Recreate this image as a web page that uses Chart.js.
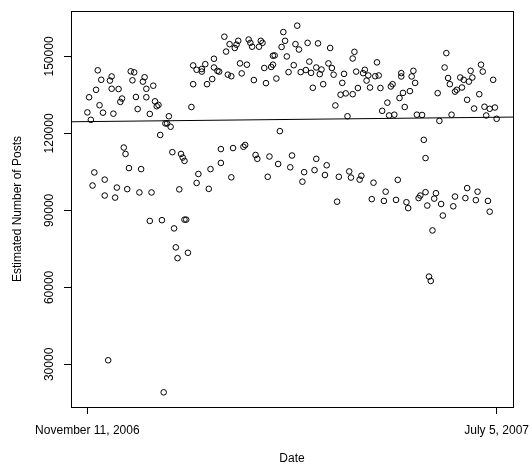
<!DOCTYPE html>
<html>
<head>
<meta charset="utf-8">
<script src="https://cdn.jsdelivr.net/npm/chart.js@4/dist/chart.umd.min.js"></script>
<style>
  html, body { margin: 0; padding: 0; background: #fff; }
  canvas { display: block; }
</style>
</head>
<body>
<canvas id="posts" width="532" height="466"></canvas>
<script>
// Days since November 11, 2006 and the estimated number of posts on that day
const dayOffsets = [
  0, 1, 2, 3, 4, 5, 6, 7, 8, 9, 10, 10, 12, 13, 14, 14, 15, 16, 17, 18,
  19, 20, 21, 22, 23, 24, 25, 26, 27, 28, 29, 30, 31, 32, 33, 34, 34, 36, 36, 37,
  38, 39, 40, 41, 42, 43, 44, 45, 46, 47, 48, 49, 50, 51, 52, 53, 54, 55, 56, 56,
  57, 58, 60, 61, 61, 63, 63, 64, 66, 66, 68, 69, 70, 71, 72, 73, 73, 75, 76, 77,
  77, 79, 80, 81, 82, 83, 83, 84, 85, 86, 87, 88, 89, 90, 91, 92, 93, 94, 95, 96,
  97, 98, 99, 100, 101, 102, 103, 104, 105, 106, 107, 107, 108, 109, 110, 111, 112, 113, 114, 115,
  116, 117, 118, 119, 120, 121, 122, 123, 124, 125, 126, 127, 128, 129, 130, 131, 132, 132, 133, 134,
  135, 136, 137, 138, 139, 140, 141, 142, 143, 144, 145, 146, 147, 148, 149, 150, 151, 152, 153, 153,
  154, 155, 156, 157, 158, 159, 160, 161, 162, 163, 164, 165, 166, 167, 168, 169, 170, 171, 172, 173,
  174, 175, 176, 177, 178, 179, 180, 181, 181, 182, 183, 184, 185, 186, 187, 188, 189, 190, 191, 192,
  193, 194, 195, 195, 196, 197, 198, 199, 200, 201, 202, 203, 204, 205, 206, 207, 208, 209, 210, 211,
  212, 212, 213, 215, 216, 217, 218, 219, 219, 220, 221, 222, 223, 224, 225, 226, 227, 228, 229, 230,
  231, 232, 232, 234, 235, 236
];
const estimatedPosts = [
  128200, 134100, 125300, 99700, 104800, 137000, 144600, 131000, 140900, 128100,
  95800, 102000, 31600, 140600, 142200, 137400, 127700, 95000, 98900, 137300,
  132300, 133600, 114500, 112000, 98300, 106500, 144200, 140700, 143800, 134200,
  129500, 97000, 106100, 140200, 141900, 137400, 134100, 127600, 85900, 97000,
  138600, 132500, 130600, 131100, 119400, 86200, 19100, 123900, 123900, 126700,
  122600, 112700, 83000, 75600, 71400, 98200, 112000, 110600, 109300, 86400,
  86400, 73500, 130300, 139200, 146500, 144800, 100700, 104200, 145100, 144100,
  147000, 139200, 98400, 106100, 141200, 145700, 149100, 144400, 144100, 113900,
  108500, 157700, 151900, 142900, 154800, 142300, 102900, 114300, 153300, 154600,
  156100, 147300, 143400, 114800, 115500, 146800, 156600, 155300, 153800, 140800,
  111600, 110100, 153800, 156100, 155300, 145500, 139600, 103100, 111000, 145900,
  146800, 150300, 150400, 141400, 108100, 120900, 153700, 159500, 156100, 150000,
  143900, 106800, 111400, 146600, 154800, 162000, 152700, 143900, 101200, 104900,
  144700, 155300, 148000, 143600, 137800, 105700, 110100, 145700, 155100, 143100,
  144900, 139200, 103800, 107600, 147300, 153300, 145500, 142900, 130900, 93400,
  103100, 135100, 139700, 143200, 135600, 126700, 105200, 102800, 135300, 149200,
  151800, 144100, 137700, 102000, 103500, 143500, 144800, 140600, 142600, 137900,
  94400, 100800, 142300, 147700, 142600, 137700, 128800, 93700, 97300, 132000,
  127000, 138300, 139200, 127300, 94100, 101900, 133800, 143500, 142200, 135800,
  130300, 93200, 90900, 136500, 142200, 144400, 139700, 127300, 94800, 95800,
  127200, 117500, 110400, 97100, 91900, 64200, 62500, 82200, 94600, 96700,
  135700, 124900, 92500, 88000, 145700, 151300, 141600, 139200, 127300, 91600,
  95400, 136300, 137000, 141800, 137900, 140900, 94800, 98700, 133100, 140200,
  144400, 141800, 129700, 94000, 97300, 135300, 146800, 144100, 130400, 127000,
  93700, 89500, 129600, 140900, 130100, 125700
];

// Axis ticks
const xTickDays = [0, 236];
const xTickLabels = ['November 11, 2006', 'July 5, 2007'];
const yTickValues = [30000, 60000, 90000, 120000, 150000];

const FONT = '"Liberation Sans", Arial, Helvetica, sans-serif';

// Axis limits extend the data range by 4% on each side
function paddedRange(values) {
  const lo = Math.min(...values), hi = Math.max(...values);
  const pad = (hi - lo) * 0.04;
  return [lo - pad, hi + pad];
}
const [xMin, xMax] = paddedRange(dayOffsets);
const [yMin, yMax] = paddedRange(estimatedPosts);

// Least-squares trend of posts against date
const n = dayOffsets.length;
const meanX = dayOffsets.reduce((a, b) => a + b, 0) / n;
const meanY = estimatedPosts.reduce((a, b) => a + b, 0) / n;
let sxy = 0, sxx = 0;
for (let i = 0; i < n; i++) {
  sxy += (dayOffsets[i] - meanX) * (estimatedPosts[i] - meanY);
  sxx += (dayOffsets[i] - meanX) ** 2;
}
const slope = sxy / sxx;
const intercept = meanY - slope * meanX;

const points = dayOffsets.map((d, i) => ({ x: d, y: estimatedPosts[i] }));
const trend = [xMin, xMax].map(x => ({ x, y: intercept + slope * x }));

// Plot frame and vertical y tick labels
const framePlugin = {
  id: 'frame',
  afterDraw(chart) {
    const { ctx, chartArea: a, scales } = chart;
    ctx.save();
    ctx.strokeStyle = '#000';
    ctx.lineWidth = 1;
    ctx.strokeRect(Math.round(a.left) + 0.5, Math.round(a.top) + 0.5,
                   Math.round(a.right - a.left), Math.round(a.bottom - a.top));
    ctx.fillStyle = '#000';
    ctx.font = '12px ' + FONT;
    ctx.textAlign = 'center';
    ctx.textBaseline = 'middle';
    scales.y.ticks.forEach(t => {
      const py = scales.y.getPixelForValue(t.value);
      ctx.save();
      ctx.translate(a.left - 21, py);
      ctx.rotate(-Math.PI / 2);
      ctx.fillText(String(t.value), 0, 0);
      ctx.restore();
    });
    ctx.restore();
  }
};

new Chart(document.getElementById('posts'), {
  type: 'scatter',
  data: {
    datasets: [
      {
        data: points,
        pointStyle: 'circle',
        pointRadius: 2.8,
        pointBorderWidth: 1,
        pointBorderColor: '#000',
        pointBackgroundColor: 'rgba(0,0,0,0)',
        showLine: false
      },
      {
        type: 'line',
        data: trend,
        borderColor: '#000',
        borderWidth: 1,
        pointRadius: 0,
        fill: false,
        tension: 0
      }
    ]
  },
  options: {
    responsive: false,
    devicePixelRatio: 1,
    animation: false,
    events: [],
    layout: { padding: { top: 11, right: 19, left: 0, bottom: 0 } },
    plugins: { legend: { display: false }, tooltip: { enabled: false } },
    scales: {
      x: {
        type: 'linear',
        min: xMin,
        max: xMax,
        afterBuildTicks: s => { s.ticks = xTickDays.map(v => ({ value: v })); },
        afterFit: s => { s.height = 59; s.paddingLeft = 0; s.paddingRight = 0; },
        ticks: {
          callback: (v, i) => xTickLabels[i],
          autoSkip: false,
          maxRotation: 0,
          padding: 9,
          color: '#000',
          font: { family: FONT, size: 12 }
        },
        grid: { display: true, drawOnChartArea: false, drawTicks: true, tickLength: 7, color: '#000', lineWidth: 1 },
        border: { display: true, color: '#000', width: 1 },
        title: {
          display: true,
          text: 'Date',
          color: '#000',
          font: { family: FONT, size: 12 },
          padding: { top: 0, bottom: 0 }
        }
      },
      y: {
        type: 'linear',
        min: yMin,
        max: yMax,
        afterBuildTicks: s => { s.ticks = yTickValues.map(v => ({ value: v })); },
        afterFit: s => { s.width = 71; s.paddingTop = 0; s.paddingBottom = 0; },
        ticks: { display: false },
        grid: { display: true, drawOnChartArea: false, drawTicks: true, tickLength: 7, color: '#000', lineWidth: 1 },
        border: { display: true, color: '#000', width: 1 },
        title: {
          display: true,
          text: 'Estimated Number of Posts',
          color: '#000',
          font: { family: FONT, size: 12 },
          padding: { top: 10, bottom: 0 }
        }
      }
    }
  },
  plugins: [framePlugin]
});
</script>
</body>
</html>
